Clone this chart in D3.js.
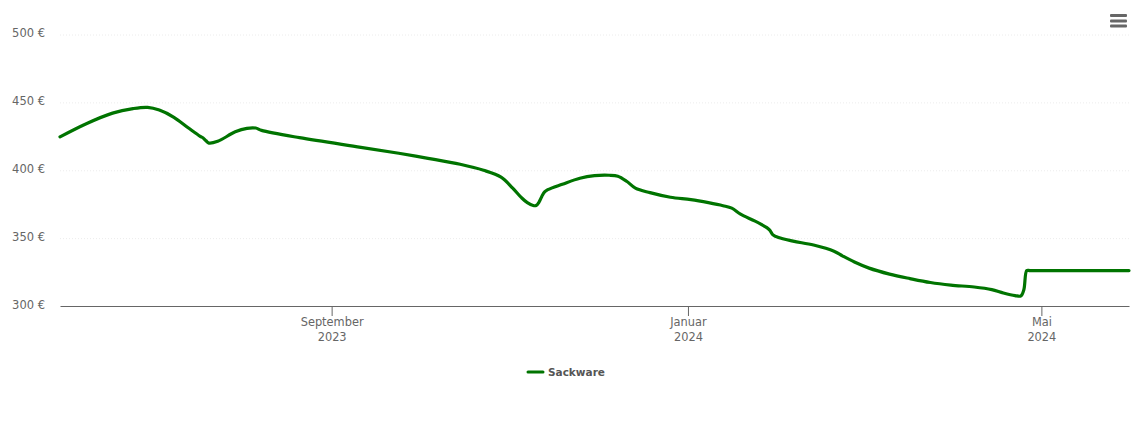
<!DOCTYPE html>
<html>
<head>
<meta charset="utf-8">
<script src="https://cdn.jsdelivr.net/npm/d3@7"></script>
<style>
  html, body { margin: 0; padding: 0; background: #fff; }
  text { font-family: "DejaVu Sans", sans-serif; }
</style>
</head>
<body>
<svg id="chart" width="1140" height="434"></svg>
<script>
var seriesName = "Sackware"

var dates = [
  "2023-05-31","2023-06-09","2023-06-18","2023-06-25","2023-06-30","2023-07-04","2023-07-09",
  "2023-07-14","2023-07-18","2023-07-19","2023-07-20","2023-07-21","2023-07-24","2023-07-30","2023-08-03",
  "2023-08-06","2023-08-08","2023-08-21","2023-09-11","2023-09-24","2023-10-04",
  "2023-10-15","2023-10-23","2023-10-29","2023-11-02","2023-11-05","2023-11-07","2023-11-09","2023-11-10",
  "2023-11-11","2023-11-12","2023-11-13","2023-11-14","2023-11-19","2023-11-25","2023-11-30","2023-12-05","2023-12-08",
  "2023-12-11","2023-12-14","2023-12-19","2023-12-26","2024-01-02","2024-01-08","2024-01-13","2024-01-16",
  "2024-01-19","2024-01-24","2024-01-28","2024-01-29","2024-01-30","2024-02-01","2024-02-06","2024-02-13",
  "2024-02-20","2024-02-23","2024-02-27","2024-03-03","2024-03-10","2024-03-17","2024-03-24","2024-03-31",
  "2024-04-08","2024-04-14","2024-04-18","2024-04-22","2024-04-24","2024-04-25","2024-04-26","2024-04-27",
  "2024-04-28","2024-05-30","2024-05-31"
]

var prices = [
  424.6,434.3,442.1,445.4,446.3,444.3,439.0,
  431.1,425.0,423.8,421.7,420.0,421.3,428.3,430.9,
  431.1,429.4,424.0,416.9,412.5,408.8,
  404.4,400.0,394.9,386.8,379.8,376.1,374.0,374.0,
  376.5,380.9,384.2,385.7,389.7,394.1,396.0,396.3,395.6,
  391.9,386.8,383.5,380.1,378.3,376.1,373.9,372.1,
  367.6,362.5,357.7,355.9,352.6,350.4,347.8,344.9,
  340.4,336.8,332.4,327.9,323.5,320.2,317.3,315.4,
  314.0,312.1,309.6,307.7,307.4,312.0,326.1,326.1,
  326.1,326.1,326.1
]

var yTicks = [300, 350, 400, 450, 500]
var xTicks = ["2023-09-01", "2024-01-01", "2024-05-01"]
var xTickLabels = [["September", "2023"], ["Januar", "2024"], ["Mai", "2024"]]

var parseDay = d3.utcParse("%Y-%m-%d")
var svg = d3.select("#chart")

var x = d3.scaleUtc()
  .domain([parseDay("2023-05-31"), parseDay("2024-05-31")])
  .range([60, 1129])

var y = d3.scaleLinear()
  .domain([300, 500])
  .range([306, 34.5])

// horizontal grid + y labels
var yAxis = svg.append("g")
  .attr("transform", "translate(60,0)")
  .call(d3.axisLeft(y).tickValues(yTicks).tickSize(-1069).tickPadding(15).tickFormat(function(d){ return d + " €" }))

yAxis.select(".domain").remove()
yAxis.selectAll("line")
  .attr("stroke", "#ececec")
  .attr("stroke-dasharray", "1,2")
yAxis.selectAll("text")
  .attr("fill", "#666")
  .attr("y", -1.2)
  .style("font-size", "11.5px")
yAxis.selectAll(".tick").filter(function(d){ return d == 300 }).select("line").remove()

// x axis, labels on two lines
var xAxis = svg.append("g")
  .attr("transform", "translate(0,306)")
  .call(d3.axisBottom(x).tickValues(xTicks.map(parseDay)).tickSize(10).tickSizeOuter(0).tickFormat(""))

xAxis.select(".domain").attr("stroke", "#666").attr("stroke-width", 1.2)
xAxis.selectAll("line").attr("stroke", "#666")

xAxis.selectAll(".tick text")
  .attr("fill", "#666")
  .style("font-size", "11.4px")
  .each(function(d, i){
    var label = d3.select(this).attr("y", 0).attr("dy", null)
    xTickLabels[i].forEach(function(part, j){
      label.append("tspan")
        .attr("x", 0)
        .attr("y", 20 + j * 15)
        .text(part)
    })
  })

// price line
var line = d3.line()
  .x(function(d){ return x(d.date) })
  .y(function(d){ return y(d.price) })
  .curve(d3.curveCatmullRom.alpha(0.5))

var points = dates.map(function(d, i){ return {date: parseDay(d), price: prices[i]} })

svg.append("path")
  .datum(points)
  .attr("d", line)
  .attr("fill", "none")
  .attr("stroke", "#007400")
  .attr("stroke-width", 3.2)
  .attr("stroke-linejoin", "round")
  .attr("stroke-linecap", "round")

// legend
var legend = svg.append("g").attr("transform", "translate(528,372)")

legend.append("line")
  .attr("x1", 0)
  .attr("x2", 15)
  .attr("stroke", "#007400")
  .attr("stroke-width", 3)
  .attr("stroke-linecap", "round")

legend.append("text")
  .attr("x", 20)
  .attr("y", 4)
  .attr("fill", "#555")
  .style("font-size", "10.5px")
  .style("font-weight", "bold")
  .text(seriesName)

// menu icon
svg.append("g")
  .selectAll("rect")
  .data([15.5, 21, 26])
  .enter().append("rect")
  .attr("x", 1110)
  .attr("y", function(d){ return d - 1.5 })
  .attr("width", 17)
  .attr("height", 3)
  .attr("rx", 1)
  .attr("fill", "#666")
</script>
</body>
</html>
